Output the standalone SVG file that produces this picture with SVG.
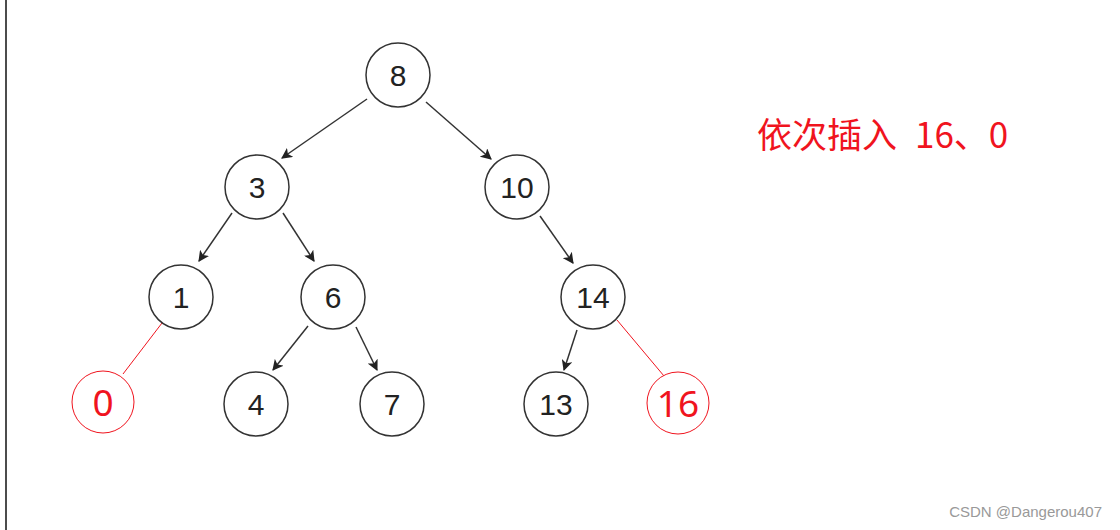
<svg xmlns="http://www.w3.org/2000/svg" width="1120" height="530" viewBox="0 0 1120 530">
<defs>
<marker id="arr" viewBox="0 0 10 10" refX="9" refY="5" markerWidth="11" markerHeight="11" markerUnits="userSpaceOnUse" orient="auto">
<path d="M0,0 L10,5 L0,10 L2.5,5 Z" fill="#222"/>
</marker>
<style>
.n{fill:#fff;stroke:#333;stroke-width:1.5}
.r{fill:#fff;stroke:#f0141e;stroke-width:1}
.t{font-family:"Liberation Sans",Arial,sans-serif;font-size:30px;fill:#222;text-anchor:middle}
.rt{font-family:"Noto Sans","Liberation Sans",sans-serif;font-size:37px;fill:#f0141e;text-anchor:middle}
.e{stroke:#333;stroke-width:1.5;fill:none;marker-end:url(#arr)}
.re{stroke:#f0141e;stroke-width:1;fill:none}
</style>
</defs>
<rect width="1120" height="530" fill="#fff"/>
<line x1="6" y1="0" x2="6" y2="530" stroke="#111" stroke-width="1.5"/>
<g id="connectors">
<line class="e" x1="367" y1="99" x2="282" y2="158"/>
<line class="e" x1="426" y1="102" x2="491" y2="159"/>
<line class="e" x1="232" y1="213" x2="199" y2="261"/>
<line class="e" x1="283" y1="213" x2="314" y2="261"/>
<line class="e" x1="308" y1="326" x2="273" y2="370"/>
<line class="e" x1="356" y1="327" x2="377" y2="370"/>
<line class="e" x1="540" y1="216" x2="573" y2="263"/>
<line class="e" x1="577" y1="330" x2="564" y2="370"/>
<line class="re" x1="162" y1="323" x2="123" y2="374"/>
<line class="re" x1="617" y1="320" x2="664" y2="376"/>
</g>
<g id="n8"><circle class="n" cx="398" cy="75" r="32"/><text class="t" x="398" y="86">8</text></g>
<g id="n3"><circle class="n" cx="257" cy="187" r="32"/><text class="t" x="257" y="198">3</text></g>
<g id="n10"><circle class="n" cx="517" cy="187" r="32"/><text class="t" x="517" y="198">10</text></g>
<g id="n1"><circle class="n" cx="181" cy="297" r="32"/><text class="t" x="181" y="308">1</text></g>
<g id="n6"><circle class="n" cx="333" cy="297" r="32"/><text class="t" x="333" y="308">6</text></g>
<g id="n14"><circle class="n" cx="593" cy="297" r="32"/><text class="t" x="593" y="308">14</text></g>
<g id="n0"><circle class="r" cx="103" cy="402" r="31"/><text class="rt" x="103" y="415.5">0</text></g>
<g id="n4"><circle class="n" cx="256" cy="404" r="32"/><text class="t" x="256" y="415">4</text></g>
<g id="n7"><circle class="n" cx="392" cy="404" r="32"/><text class="t" x="392" y="415">7</text></g>
<g id="n13"><circle class="n" cx="556" cy="404" r="32"/><text class="t" x="556" y="415">13</text></g>
<g id="n16"><circle class="r" cx="678" cy="403" r="31"/><text class="rt" x="678" y="416.5">16</text></g>
<text x="757" y="148" font-family="'Noto Sans CJK SC',sans-serif" font-size="35" fill="#f0141e">依次插入<tspan x="915">16、0</tspan></text>
<text x="1102" y="517" font-family="'Liberation Sans',Arial,sans-serif" font-size="15" fill="#999" text-anchor="end">CSDN @Dangerou407</text>
</svg>
